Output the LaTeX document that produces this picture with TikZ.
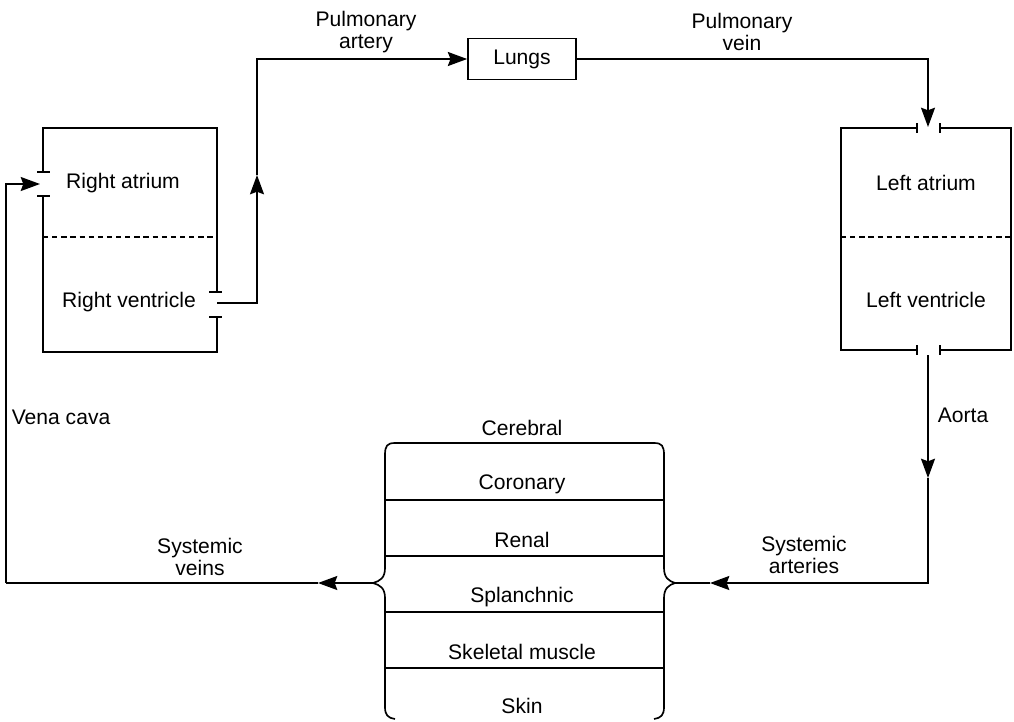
\documentclass[tikz,border=0pt]{standalone}
\usepackage{fontspec}
\setsansfont{Liberation Sans}
\usetikzlibrary{arrows.meta}

\begin{document}
\begin{tikzpicture}[
        x=0.02cm, y=-0.02cm,
        >={Stealth[length=11pt,width=8pt,inset=1.5pt]},
        line width=0.95pt,
        every node/.style={font=\sffamily\fontsize{12}{12.5}\selectfont, align=center, inner sep=0pt},
        flow/.style={->},
        divider/.style={line width=0.7pt, dash pattern=on 3pt off 2.2pt},
        valve/.style={line width=0.95pt},
        lungbox/.style={draw, minimum width=108*0.02cm, minimum height=41*0.02cm}
        ]
        \useasboundingbox (0,0) rectangle (1014,721);

        % right heart
        \draw (43,172) -- (43,128) -- (217,128) -- (217,292);
        \draw (43,196) -- (43,352) -- (217,352) -- (217,317);
        \draw[valve] (37,172) -- (50,172) (37,196) -- (50,196);
        \draw[valve] (209,292) -- (222,292) (209,317) -- (222,317);
        \draw[divider] (43,237) -- (217,237);
        \node (ra) at (123,183) {Right atrium};
        \node (rv) at (129,302) {Right ventricle};

        % left heart
        \draw (917,128) -- (841,128) -- (841,350) -- (917,350);
        \draw (940,128) -- (1011,128) -- (1011,350) -- (940,350);
        \draw[valve] (917,123) -- (917,133) (940,123) -- (940,133);
        \draw[valve] (917,345) -- (917,355) (940,345) -- (940,355);
        \draw[divider] (841,237) -- (1011,237);
        \node (la) at (926,183) {Left atrium};
        \node (lv) at (926,300) {Left ventricle};

        \node[lungbox] (lungs) at (522,59) {Lungs};

        % organ beds
        \draw (395,443) -- (654,443);
        \draw (395,443) .. controls (387,443) and (385,446) .. (385,455) -- (385,568)
              .. controls (385,578) and (380,581) .. (373,583)
              .. controls (380,585) and (385,588) .. (385,598) -- (385,707)
              .. controls (385,715) and (388,718) .. (395,719);
        \draw (654,443) .. controls (662,443) and (664,446) .. (664,455) -- (664,568)
              .. controls (664,578) and (669,581) .. (675,583)
              .. controls (669,585) and (664,588) .. (664,598) -- (664,707)
              .. controls (664,715) and (661,718) .. (654,719);
        \foreach \y in {500,556,612,668}
            \draw (385,\y) -- (664,\y);
        \foreach \name/\txt/\y in {cerebral/Cerebral/428, coronary/Coronary/484,
                renal/Renal/540, splanchnic/Splanchnic/597,
                skeletal/Skeletal muscle/652, skin/Skin/706}
            \node (\name) at (522,\y) {\txt};

        \coordinate (rvout) at (217,303);
        \coordinate (pa) at (257,175);
        \coordinate (pvin) at (928,127);
        \coordinate (aoout) at (928,355);
        \coordinate (ao) at (928,478);
        \coordinate (sa) at (710,583);
        \coordinate (rtip) at (675,583);
        \coordinate (ltip) at (373,583);
        \coordinate (sv) at (318,583);
        \coordinate (vc) at (6,583);
        \coordinate (rain) at (40,184);

        \draw[flow] (rvout) -| (pa);
        \draw[flow] (pa) |- (lungs.west);
        \draw[flow] (lungs.east) -| (pvin);
        \draw[flow] (aoout) -- (ao);
        \draw[flow] (ao) |- (sa);
        \draw (sa) -- (rtip);
        \draw[flow] (ltip) -- (sv);
        \draw (sv) -- (vc);
        \draw[flow] (vc) |- (rain);

        \node (palabel) at (366,32) {Pulmonary\\artery};
        \node (pvlabel) at (742,32) {Pulmonary\\vein};
        \node[anchor=west] (vclabel) at (11,417) {Vena cava};
        \node[anchor=west] (aolabel) at (937,415) {Aorta};
        \node (svlabel) at (200,557) {Systemic\\veins};
        \node (salabel) at (804,555) {Systemic\\arteries};
\end{tikzpicture}
\end{document}
